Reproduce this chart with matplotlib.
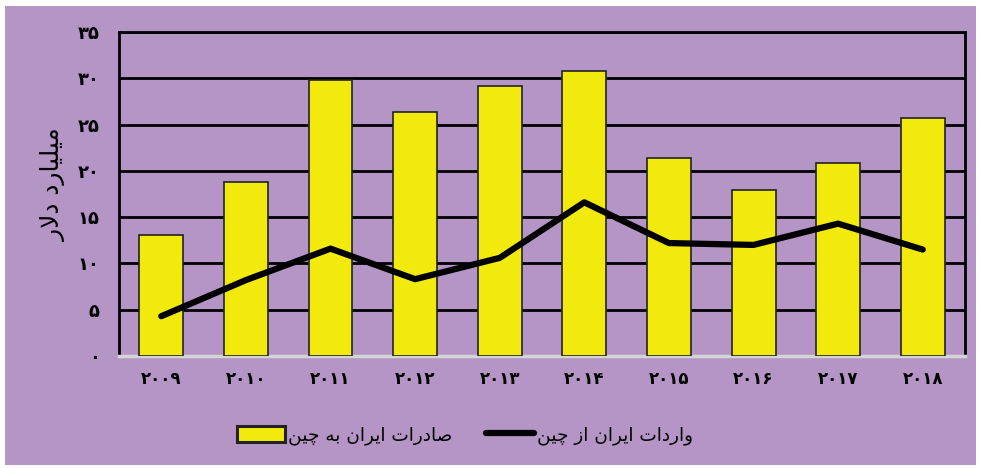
import matplotlib.pyplot as plt
from matplotlib.patches import Rectangle

plt.rcParams['font.family'] = ['DejaVu Sans']

years = ['۲۰۰۹', '۲۰۱۰', '۲۰۱۱', '۲۰۱۲', '۲۰۱۳', '۲۰۱۴', '۲۰۱۵', '۲۰۱۶', '۲۰۱۷', '۲۰۱۸']
exports = [13.1, 18.8, 29.8, 26.4, 29.2, 30.8, 21.4, 17.9, 20.8, 25.7]
imports = [4.3, 8.2, 11.6, 8.3, 10.6, 16.6, 12.2, 12.0, 14.3, 11.5]
ytick_vals = [0, 5, 10, 15, 20, 25, 30, 35]
ytick_labels = ['۰', '۵', '۱۰', '۱۵', '۲۰', '۲۵', '۳۰', '۳۵']
ylabel = 'میلیارد دلار'
export_label = 'صادرات ایران به چین'
import_label = 'واردات ایران از چین'

BG = '#B595C6'
YELLOW = '#F2EA0C'

# presentation forms: (isolated, final, initial, medial)
FORMS = {
    'ا': ('\uFE8D', '\uFE8E', None, None),
    'ب': ('\uFE8F', '\uFE90', '\uFE91', '\uFE92'),
    'ت': ('\uFE95', '\uFE96', '\uFE97', '\uFE98'),
    'د': ('\uFEA9', '\uFEAA', None, None),
    'ر': ('\uFEAD', '\uFEAE', None, None),
    'ز': ('\uFEAF', '\uFEB0', None, None),
    'ص': ('\uFEB9', '\uFEBA', '\uFEBB', '\uFEBC'),
    'ل': ('\uFEDD', '\uFEDE', '\uFEDF', '\uFEE0'),
    'م': ('\uFEE1', '\uFEE2', '\uFEE3', '\uFEE4'),
    'ن': ('\uFEE5', '\uFEE6', '\uFEE7', '\uFEE8'),
    'ه': ('\uFEE9', '\uFEEA', '\uFEEB', '\uFEEC'),
    'و': ('\uFEED', '\uFEEE', None, None),
    'ی': ('\uFBFC', '\uFBFD', '\uFBFE', '\uFBFF'),
    'چ': ('\uFB7A', '\uFB7B', '\uFB7C', '\uFB7D'),
}


def shape(text):
    """Join Persian letters and reverse for left-to-right drawing."""
    out = []
    i = 0
    n = len(text)
    while i < n:
        ch = text[i]
        if ch not in FORMS:
            out.append(ch)
            i += 1
            continue
        prev = text[i - 1] if i > 0 else ''
        joins_prev = prev in FORMS and FORMS[prev][2] is not None
        if ch == 'ل' and i + 1 < n and text[i + 1] == 'ا':
            out.append('\uFEFC' if joins_prev else '\uFEFB')
            i += 2
            continue
        nxt = text[i + 1] if i + 1 < n else ''
        joins_next = FORMS[ch][2] is not None and nxt in FORMS
        iso, fin, ini, med = FORMS[ch]
        if joins_prev and joins_next:
            out.append(med)
        elif joins_prev:
            out.append(fin)
        elif joins_next:
            out.append(ini)
        else:
            out.append(iso)
        i += 1
    return ''.join(reversed(out))


fig = plt.figure(figsize=(9.81, 4.68), dpi=100, facecolor='white')
fig.patches.append(Rectangle((0.005, 0.006), 0.99, 0.981, transform=fig.transFigure,
                             facecolor=BG, edgecolor='none', zorder=-1))
ax = fig.add_axes([0.1213, 0.2393, 0.8624, 0.6923])
ax.set_facecolor(BG)

x = list(range(len(years)))
bars = ax.bar(x, exports, width=0.52, color=YELLOW, edgecolor='#222222', linewidth=1.2,
              zorder=3)
line, = ax.plot(x, imports, color='black', linewidth=4.5, solid_capstyle='round',
                zorder=4)

ax.set_xlim(-0.5, len(years) - 0.5)
ax.set_ylim(0, 35)
ax.set_yticks(ytick_vals)
ax.set_yticklabels(ytick_labels, fontsize=13, fontweight='bold')
ax.set_xticks(x)
ax.set_xticklabels(years, fontsize=12, fontweight='bold')
ax.tick_params(length=0, pad=10)
ax.tick_params(axis='y', pad=14)
ax.grid(axis='y', color='black', linewidth=2, zorder=0)
ax.set_axisbelow(True)

for side in ['left', 'top', 'right']:
    ax.spines[side].set_color('black')
    ax.spines[side].set_linewidth(2)
ax.spines['bottom'].set_color('#D4D4D4')
ax.spines['bottom'].set_linewidth(2.5)

ax.set_ylabel(shape(ylabel), fontsize=18)
ax.yaxis.set_label_coords(-0.063, 0.53)

# legend handle for bars gets a heavier outline
box = Rectangle((0, 0), 1, 1, facecolor=YELLOW, edgecolor='#222222', linewidth=2.2)
fig.legend([box, line], [shape(export_label), shape(import_label)],
           loc='center', bbox_to_anchor=(0.474, 0.07), ncol=2, frameon=False,
           fontsize=13.3, handlelength=2.6, handleheight=1.0, columnspacing=1.8,
           handletextpad=0.15)

fig.savefig('out.png', dpi=100, facecolor=fig.get_facecolor())
